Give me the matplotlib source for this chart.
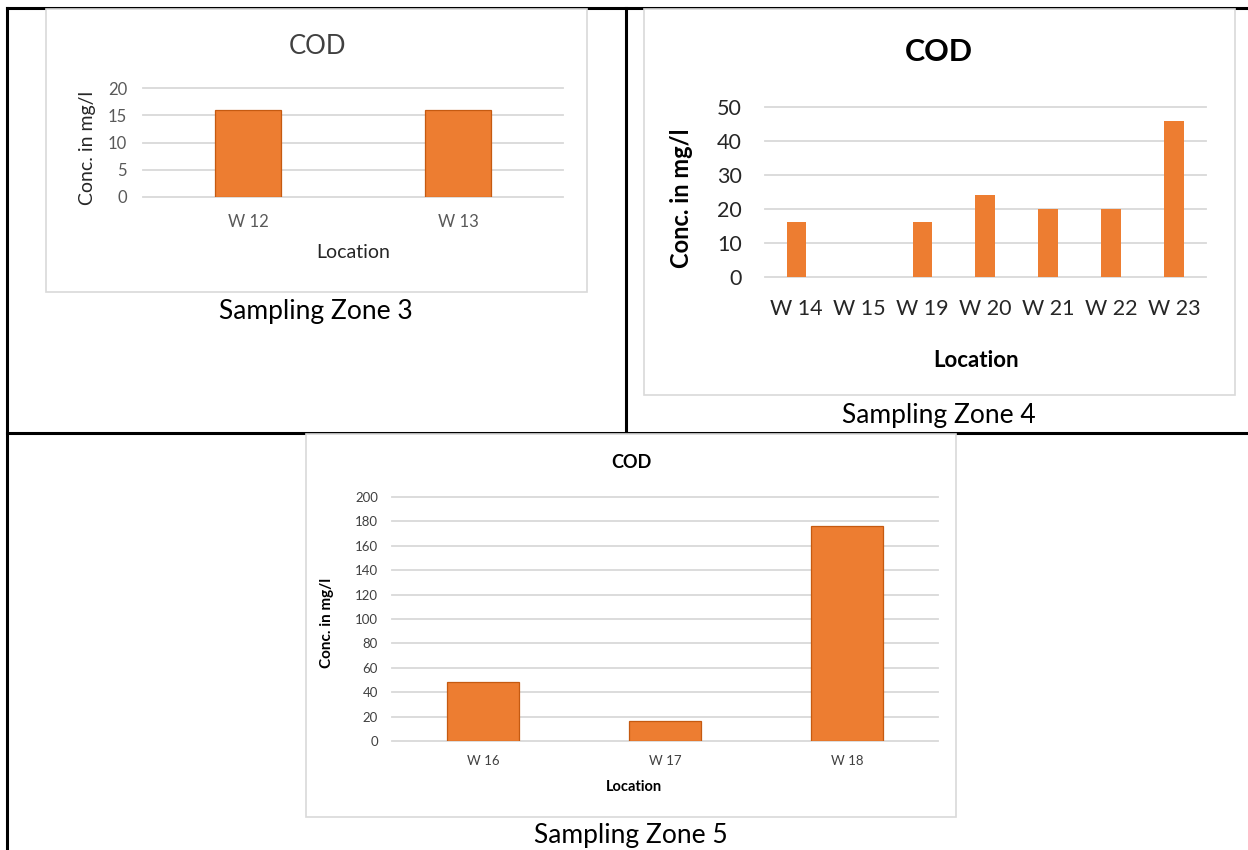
import matplotlib
matplotlib.use("Agg")
import matplotlib.pyplot as plt
from matplotlib.patches import Rectangle
from matplotlib.lines import Line2D

plt.rcParams['font.family'] = ['Lato', 'DejaVu Sans']

# COD concentrations (mg/l) per sampling location
zone3_locations = ["W 12", "W 13"]
zone3_cod = [16, 16]
zone3_yticks = [0, 5, 10, 15, 20]

zone4_locations = ["W 14", "W 15", "W 19", "W 20", "W 21", "W 22", "W 23"]
zone4_cod = [16, 0, 16, 24, 20, 20, 46]
zone4_yticks = [0, 10, 20, 30, 40, 50]

zone5_locations = ["W 16", "W 17", "W 18"]
zone5_cod = [48, 16, 176]
zone5_yticks = [0, 20, 40, 60, 80, 100, 120, 140, 160, 180, 200]

W, H = 1248, 850
DPI = 100
fig = plt.figure(figsize=(W / DPI, H / DPI), dpi=DPI)
fig.patch.set_facecolor("white")

ORANGE = "#ED7D31"
EDGE = "#C55A11"
GRID = "#D9D9D9"


def fx(x):
    return x / W


def fy(y):
    return 1 - y / H


def ptext(x, y, s, **kw):
    fig.text(fx(x), fy(y), s, ha="center", va="center", **kw)


# table borders
for (x0, y0, x1, y1) in [(7, 8, W, 8), (7, 8, 7, H), (626, 8, 626, 433), (7, 433, W, 433)]:
    fig.add_artist(Line2D([fx(x0), fx(x1)], [fy(y0), fy(y1)], color="black",
                          lw=2.2, transform=fig.transFigure, zorder=1))


def chart_box(x0, y0, x1, y1):
    fig.add_artist(Rectangle((fx(x0), fy(y1)), fx(x1) - fx(x0), fy(y0) - fy(y1),
                             transform=fig.transFigure, facecolor="white",
                             edgecolor=GRID, lw=1.2, zorder=2))


def bar_panel(rect_px, labels, values, yticks, width, edge, tick_size,
              tick_color, ypad, xpad):
    x0, y0, x1, y1 = rect_px
    ax = fig.add_axes([fx(x0), fy(y1), fx(x1) - fx(x0), fy(y0) - fy(y1)])
    ax.set_zorder(3)
    ax.patch.set_alpha(0)
    pos = list(range(len(labels)))
    ax.bar(pos, values, width=width, color=ORANGE,
           edgecolor=edge if edge else "none", linewidth=0.9 if edge else 0,
           zorder=3)
    ax.set_xlim(-0.5, len(labels) - 0.5)
    ax.set_ylim(yticks[0], yticks[-1])
    for t in yticks:
        ax.axhline(t, color=GRID, lw=1.3, zorder=1, clip_on=False)
    ax.set_xticks(pos)
    ax.set_xticklabels(labels)
    ax.set_yticks(yticks)
    ax.tick_params(axis="both", length=0, labelsize=tick_size, colors=tick_color)
    ax.tick_params(axis="y", pad=ypad)
    ax.tick_params(axis="x", pad=xpad)
    for s in ax.spines.values():
        s.set_visible(False)
    return ax


# ---- Sampling Zone 3 ----
chart_box(46, 9, 587, 292)
bar_panel((143, 88.3, 563, 197), zone3_locations, zone3_cod, zone3_yticks,
          0.31, EDGE, 12, "#595959", 11.5, 12)
ptext(318, 46, "COD", fontsize=18.5, color="#404040")
ptext(88, 148, "Conc. in mg/l", fontsize=14, color="#262626", rotation=90)
ptext(353, 253, "Location", fontsize=14, color="#262626")
ptext(316, 311, "Sampling Zone 3", fontsize=19, color="black")

# ---- Sampling Zone 4 ----
chart_box(644, 9, 1235, 395)
bar_panel((765, 107, 1205.5, 276.7), zone4_locations, zone4_cod, zone4_yticks,
          0.31, None, 15.5, "#262626", 16.5, 16)
ptext(939, 52, "COD", fontsize=22, fontweight="bold", color="black")
ptext(682, 198, "Conc. in mg/l", fontsize=17, fontweight="bold", color="black",
      rotation=90)
ptext(976, 360, "Location", fontsize=16, fontweight="bold", color="black")
ptext(939, 415, "Sampling Zone 4", fontsize=19, color="black")

# ---- Sampling Zone 5 ----
chart_box(306, 434, 956, 817)
bar_panel((392, 497, 938, 741), zone5_locations, zone5_cod, zone5_yticks,
          0.4, EDGE, 9.5, "#404040", 10, 10)
ptext(631, 463, "COD", fontsize=13, fontweight="bold", color="black")
ptext(327, 623, "Conc. in mg/l", fontsize=11, fontweight="bold", color="black",
      rotation=90)
ptext(634, 787, "Location", fontsize=10.5, fontweight="bold", color="black")
ptext(631, 836, "Sampling Zone 5", fontsize=19, color="black")

fig.savefig("out.png", dpi=DPI, facecolor="white")
